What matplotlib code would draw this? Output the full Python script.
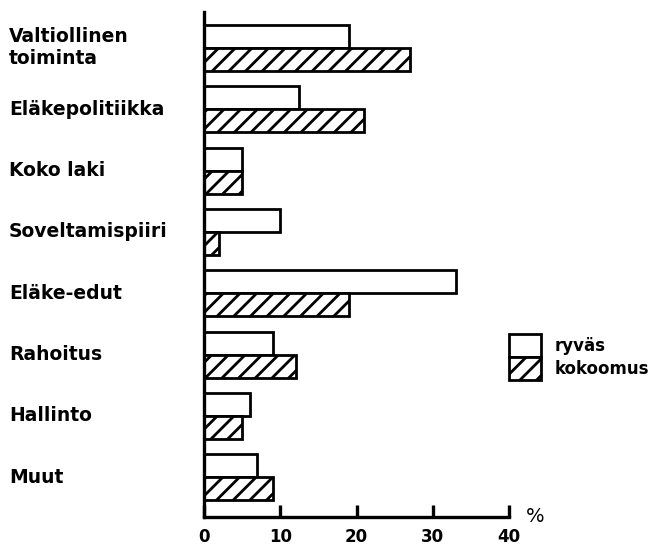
import matplotlib
matplotlib.use("Agg")
import matplotlib.pyplot as plt
import matplotlib.transforms as mtransforms
import numpy as np

categories = ["Valtiollinen\ntoiminta", "Eläkepolitiikka", "Koko laki", "Soveltamispiiri",
              "Eläke-edut", "Rahoitus", "Hallinto", "Muut"]
ryvas = [19, 12.5, 5, 10, 33, 9, 6, 7]
kokoomus = [27, 21, 5, 2, 19, 12, 5, 9]
xticks = [0, 10, 20, 30, 40]
series_names = ["ryväs", "kokoomus"]

plt.rcParams['hatch.linewidth'] = 2.0
plt.rcParams['font.family'] = ['DejaVu Sans']

W, H = 656, 547
fig = plt.figure(figsize=(W / 100, H / 100), dpi=100)
fig.patch.set_facecolor("white")

# axes placement in pixel terms
x0, x1 = 204, 509
ytop, ybot = 12, 517
ax = fig.add_axes([x0 / W, (H - ybot) / H, (x1 - x0) / W, (ybot - ytop) / H])

pos = np.arange(len(categories))
h = 0.375
ax.barh(pos - h / 2, ryvas, height=h, color="white", edgecolor="black", linewidth=2.0,
        label=series_names[0])
ax.barh(pos + h / 2, kokoomus, height=h, color="white", edgecolor="black", linewidth=2.0,
        hatch="//", label=series_names[1])

ax.set_xlim(0, 40)
ax.set_ylim(7.65, -0.587)
ax.spines["top"].set_visible(False)
ax.spines["right"].set_visible(False)
ax.spines["left"].set_linewidth(2.4)
ax.spines["bottom"].set_linewidth(2.4)
ax.set_yticks([])
ax.set_xticks(xticks)
ax.set_xticklabels([str(t) for t in xticks], fontsize=12, fontweight="bold")
ax.tick_params(axis="x", direction="in", length=9, width=2.4, pad=8)

# category labels, left aligned at figure edge
trans = mtransforms.blended_transform_factory(fig.transFigure, ax.transData)
for i, c in enumerate(categories):
    ax.text(9 / W, pos[i], c, transform=trans, ha="left", va="center",
            fontsize=13.5, fontweight="bold", linespacing=1.2)

# percent sign
fig.text(535 / W, (H - 516) / H, "%", ha="center", va="center", fontsize=14)

leg = ax.legend(loc="upper left", bbox_to_anchor=(509 / W, (H - 334) / H),
                bbox_transform=fig.transFigure, frameon=False, borderpad=0,
                borderaxespad=0, labelspacing=0, handlelength=1.92, handleheight=1.75,
                handletextpad=0.8, prop={"size": 12, "weight": "bold"})

fig.savefig("out.png", dpi=100)
